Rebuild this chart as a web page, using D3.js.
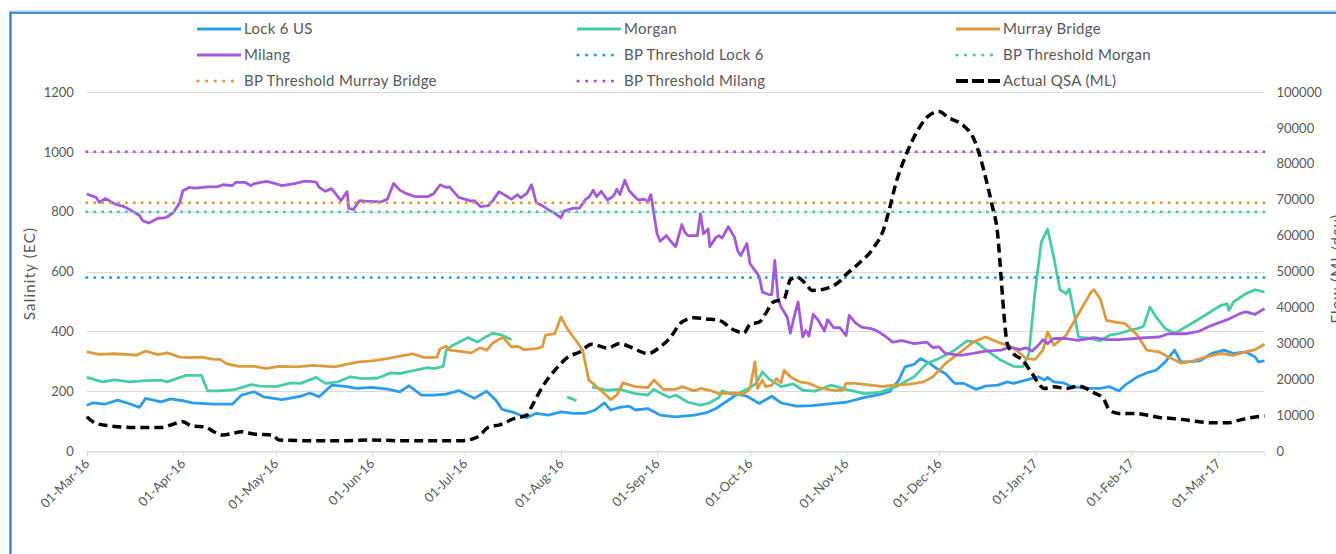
<!DOCTYPE html>
<html>
<head>
<meta charset="utf-8">
<script src="https://cdn.jsdelivr.net/npm/d3@7"></script>
<style>
  body { margin: 0; background: #fff; }
  svg text { font-family: Lato, "Open Sans", sans-serif; fill: #595959; }
</style>
</head>
<body>
<script>
// series values are [days since 01-Mar-16, value]; null value = gap
const lock6 = [[0,153],[2,161],[6,157],[10,170],[14,157],[17,146],[19,176],[24,164],[27,174],[31,168],[34,161],[41,157],[47,157],[50,187],[54,198],[57,181],[63,172],[69,183],[72,194],[75,181],[79,220],[84,215],[87,209],[92,213],[97,207],[101,198],[104,218],[108,187],[112,187],[116,190],[120,202],[125,176],[129,200],[132,170],[134,139],[138,128],[142,111],[145,126],[149,120],[153,131],[157,126],[161,126],[164,137],[167,161],[169,137],[172,146],[175,150],[177,137],[181,142],[185,120],[190,114],[196,120],[200,128],[203,142],[206,163],[210,190],[213,183],[217,159],[221,183],[224,161],[229,150],[234,152],[241,159],[245,163],[251,179],[256,189],[259,198],[262,237],[264,281],[267,290],[269,309],[272,292],[275,270],[277,259],[280,226],[283,226],[287,206],[290,217],[294,220],[297,231],[299,226],[303,237],[307,248],[309,237],[310,246],[312,231],[315,228],[318,215],[323,209],[327,209],[330,215],[333,201],[335,220],[339,248],[342,261],[345,270],[348,298],[351,337],[353,298],[355,298],[359,301],[363,326],[367,337],[370,326],[374,331],[377,314],[378,298],[380,301]];

const morgan = [[0,246],[5,231],[9,238],[14,231],[19,235],[24,237],[26,231],[29,242],[32,253],[37,253],[38,226],[39,201],[43,201],[48,206],[53,222],[56,217],[61,215],[66,228],[69,226],[74,246],[77,226],[81,231],[85,248],[89,242],[94,244],[98,261],[101,259],[105,268],[110,279],[112,275],[115,283],[116,337],[118,353],[123,379],[126,364],[129,383],[131,394],[134,387],[137,372],[138,null],[155,181],[158,168],[159,null],[163,214],[168,203],[172,206],[177,192],[181,187],[183,206],[185,194],[188,179],[190,187],[194,163],[198,153],[201,161],[204,179],[205,201],[209,187],[213,206],[216,226],[218,264],[220,242],[224,215],[228,224],[231,203],[235,200],[240,220],[242,215],[245,206],[251,192],[256,196],[261,215],[267,248],[271,292],[275,309],[280,337],[284,368],[287,364],[290,339],[295,303],[299,283],[302,281],[304,326],[306,537],[308,698],[310,742],[312,648],[314,539],[316,526],[317,542],[318,492],[320,381],[324,376],[327,368],[330,387],[333,392],[337,405],[339,409],[341,417],[343,481],[345,448],[348,409],[351,394],[355,417],[359,442],[363,468],[366,487],[368,492],[368.5,470],[370,498],[374,526],[377,539],[380,531]];

const murrayBridge = [[0,331],[4,323],[9,325],[14,322],[16,320],[19,334],[23,322],[26,328],[30,314],[33,312],[37,314],[41,306],[43,306],[45,292],[49,283],[54,283],[58,276],[62,283],[68,281],[73,286],[80,281],[84,290],[88,298],[92,301],[97,309],[101,317],[105,325],[109,312],[113,314],[114,342],[116,350],[117,337],[120,334],[124,328],[127,345],[129,337],[131,361],[134,379],[135,372],[137,348],[139,350],[141,339],[145,342],[147,348],[148,387],[151,392],[153,448],[155,409],[157,381],[159,353],[160,337],[162,237],[164,220],[167,192],[169,172],[171,187],[173,228],[177,215],[181,212],[183,237],[186,206],[190,206],[192,215],[196,201],[198,209],[201,203],[204,192],[209,194],[212,190],[214,209],[215.6,298],[216.4,209],[218,237],[219,215],[221,220],[222.5,242],[224,228],[225,270],[227,248],[230,231],[233,226],[237,209],[241,203],[244,203],[245,226],[248,226],[253,220],[257,215],[260,220],[265,223],[270,231],[273,248],[277,292],[282,331],[286,364],[290,381],[294,364],[297,353],[300,337],[303,309],[306,306],[308.5,337],[310,398],[312,353],[316,387],[320,459],[324,531],[325,539],[327,509],[329,437],[332,431],[335,426],[339,387],[342,337],[346,331],[349,314],[353,294],[357,301],[361,314],[366,326],[370,320],[374,331],[377,339],[380,357]];

const milang = [[0,859],[3,848],[4,831],[6,844],[9,826],[12,817],[14,806],[17,787],[18,770],[20,762],[23,778],[25,779],[26,783],[28,798],[30,831],[31,870],[33,881],[35,879],[39,883],[42,883],[44,890],[47,887],[48,898],[51,898],[53,887],[54,894],[58,901],[60,896],[63,887],[67,894],[70,901],[72,901],[74,899],[75,881],[77,868],[79,877],[82,837],[84,867],[84.5,812],[86,807],[88,837],[90,835],[95,833],[97,842],[99,894],[101,872],[103,861],[106,850],[110,850],[112,861],[114,890],[116,881],[117,883],[120,848],[124,835],[125,837],[127,817],[129.5,820],[131,837],[133,867],[134,861],[137,842],[139,857],[140,846],[142,861],[143.5,890],[145,831],[147,820],[149,806],[151,795],[153,779],[154,802],[157,812],[159,812],[161,842],[162,848],[163.4,872],[164.5,850],[166,868],[168,839],[170,853],[171,875],[172,857],[173.6,905],[175,870],[177,848],[178,839],[180,842],[181,831],[182,857],[183,792],[184,726],[185,701],[187,720],[189,694],[190,683],[192,757],[193,731],[194,720],[197,720],[198,792],[199,726],[200.5,742],[201,683],[203,714],[204,720],[205,712],[207,750],[209,714],[210,670],[211,653],[213,694],[214,626],[216,598],[217,581],[218,531],[220,523],[221,523],[222,637],[223,514],[224,481],[226,448],[227,394],[228.5,459],[229.5,498],[231,381],[232,403],[233,384],[234.4,457],[236,437],[238,401],[239,439],[241,412],[243,412],[245,386],[246,453],[248,428],[250,414],[253,409],[254,406],[256,395],[258,381],[260,364],[263,369],[267,359],[271,364],[273,346],[275,348],[277,326],[282,320],[286,326],[290,334],[295,337],[298,348],[301,339],[303,345],[305,334],[307,353],[308.5,372],[310,359],[312,376],[316,376],[320,370],[325,379],[329,372],[333,372],[338,376],[342,379],[346,381],[349,392],[355,392],[359,401],[363,420],[368,439],[372,459],[374,465],[377,457],[380,476]];

const actualQSA = [[0,9530],[3,7690],[8,6940],[14,6580],[19,6580],[24,6580],[27,7220],[31,8140],[34,6940],[38,6760],[41,5360],[44,4440],[47,4910],[50,5360],[54,4720],[60,4440],[62,3060],[73,2870],[84,2870],[92,3060],[101,2870],[112,2870],[121,2870],[125,3520],[127,4440],[129,6300],[131,6940],[133,7220],[138,9080],[142,10000],[143.5,12300],[147,17860],[152,23420],[155,26030],[159,27590],[163,29720],[168,28700],[172,29920],[176,28700],[181,27140],[185,28980],[188,31310],[192,35920],[196,37140],[200,36800],[204,36390],[209,33610],[212,32870],[214,35280],[217,35930],[219,38250],[221.5,41480],[225,42420],[227,47700],[229,48420],[232,46590],[234,44730],[239,45380],[243,47310],[245,49170],[249,52140],[254,56750],[257,61500],[259,67500],[261,74370],[264,81760],[268,89170],[271,92870],[275,94540],[278,92870],[283,90560],[286,87310],[288,82700],[290,76200],[292,68810],[294,59530],[295,48420],[296,37310],[297,29920],[299,27140],[302,25280],[305,21580],[309,17420],[312,17880],[316,17420],[320,18060],[325,16200],[328,14640],[330,11390],[333,10470],[338,10470],[342,10000],[346,9360],[350,9080],[355,8610],[359,8140],[363,7860],[368,7860],[372,8610],[376,9360],[380,9720]];

// BP thresholds (EC)
const thresholdNames = ['BP Threshold Lock 6', 'BP Threshold Morgan', 'BP Threshold Murray Bridge', 'BP Threshold Milang'];
const thresholdValues = [580, 800, 830, 1000];

const salinityTicks = [0, 200, 400, 600, 800, 1000, 1200];
const flowTicks = [0, 10000, 20000, 30000, 40000, 50000, 60000, 70000, 80000, 90000, 100000];
const monthLabels = ['01-Mar-16','01-Apr-16','01-May-16','01-Jun-16','01-Jul-16','01-Aug-16','01-Sep-16','01-Oct-16','01-Nov-16','01-Dec-16','01-Jan-17','01-Feb-17','01-Mar-17'];

const width = 1336, height = 554;
const plot = { left: 86.8, right: 1264.5, top: 92, bottom: 451 };

const colors = { lock6: '#2e9de9', morgan: '#49cba6', murray: '#db9b3e', milang: '#a35ad8', qsa: '#000' };

const start = Date.UTC(2016, 2, 1);
const toDate = d => new Date(start + d * 864e5);
const parseLabel = d3.utcParse('%d-%b-%y');

const x = d3.scaleUtc().domain([toDate(0), toDate(380)]).range([plot.left, plot.right]);
const y = d3.scaleLinear().domain([0, 1200]).range([plot.bottom, plot.top]);
const y2 = d3.scaleLinear().domain([0, 100000]).range([plot.bottom, plot.top]);

const svg = d3.select('body').append('svg')
  .attr('width', width).attr('height', height);

// chart frame (selected-chart blue border)
svg.append('path').attr('d', `M10.5,${height} V12 H${width}`)
  .attr('fill', 'none').attr('stroke', '#a9c9ea').attr('stroke-width', 3);
svg.append('path').attr('d', `M10.5,${height} V13 H${width}`)
  .attr('fill', 'none').attr('stroke', '#2a75c4').attr('stroke-width', 1.5);

// gridlines
svg.append('g').selectAll('line').data(salinityTicks).join('line')
  .attr('x1', plot.left).attr('x2', plot.right)
  .attr('y1', d => Math.round(y(d)) + 0.5).attr('y2', d => Math.round(y(d)) + 0.5)
  .attr('stroke', '#d9d9d9').attr('stroke-width', 1);

// left axis
const yAxis = svg.append('g').attr('transform', `translate(${plot.left - 10},0)`)
  .call(d3.axisLeft(y).tickValues(salinityTicks).tickSize(0).tickFormat(d3.format('d')));
yAxis.select('.domain').remove();
yAxis.selectAll('text').attr('font-size', 13).style('font-family', 'Lato');

// right axis
const y2Axis = svg.append('g').attr('transform', `translate(${plot.right + 12},0)`)
  .call(d3.axisRight(y2).tickValues(flowTicks).tickSize(0).tickFormat(d3.format('d')));
y2Axis.select('.domain').remove();
y2Axis.selectAll('text').attr('font-size', 13).attr('x', 0).style('font-family', 'Lato');

// x axis
const xAxis = svg.append('g').attr('transform', `translate(0,${Math.round(plot.bottom) + 0.5})`)
  .call(d3.axisBottom(x).tickValues(monthLabels.map(parseLabel)).tickSize(5).tickFormat(d3.utcFormat('%d-%b-%y')));
xAxis.select('.domain').attr('stroke', '#d9d9d9');
xAxis.selectAll('.tick line').attr('stroke', '#d9d9d9');
xAxis.selectAll('text')
  .attr('font-size', 13).style('font-family', 'Lato')
  .attr('text-anchor', 'end')
  .attr('dy', 0).attr('y', 0)
  .attr('transform', 'translate(3,13) rotate(-45)');

// axis titles
svg.append('text').attr('transform', `translate(35,${(plot.top + plot.bottom) / 2 + 2}) rotate(-90)`)
  .attr('text-anchor', 'middle').attr('font-size', 15).attr('letter-spacing', 1.2).text('Salinity (EC)');
svg.append('text').attr('transform', `translate(1342,${(plot.top + plot.bottom) / 2 - 3}) rotate(-90)`)
  .attr('text-anchor', 'middle').attr('font-size', 15).attr('letter-spacing', 1.2).text('Flow (ML/day)');

const lineL = d3.line().defined(d => d[1] != null).x(d => x(toDate(d[0]))).y(d => y(d[1]));
const lineR = d3.line().x(d => x(toDate(d[0]))).y(d => y2(d[1])).curve(d3.curveMonotoneX);

const series = [
  { name: 'Lock 6 US', data: lock6, color: colors.lock6 },
  { name: 'Morgan', data: morgan, color: colors.morgan },
  { name: 'Murray Bridge', data: murrayBridge, color: colors.murray },
  { name: 'Milang', data: milang, color: colors.milang }
];
const thresholdColors = [colors.lock6, colors.morgan, colors.murray, colors.milang];

series.forEach(s => {
  svg.append('path').datum(s.data)
    .attr('d', lineL).attr('fill', 'none')
    .attr('stroke', s.color).attr('stroke-width', 2.8)
    .attr('stroke-linejoin', 'round');
});

thresholdValues.forEach((v, i) => {
  svg.append('path').datum([[0, v], [380, v]])
    .attr('d', lineL).attr('fill', 'none')
    .attr('stroke', thresholdColors[i]).attr('stroke-width', 3)
    .attr('stroke-linecap', 'round').attr('stroke-dasharray', '0.1 7.8');
});

svg.append('path').datum(actualQSA)
  .attr('d', lineR).attr('fill', 'none')
  .attr('stroke', colors.qsa).attr('stroke-width', 3.5)
  .attr('stroke-dasharray', '9 5');

// legend
const legendItems = [
  { name: 'Lock 6 US', color: colors.lock6, kind: 'solid' },
  { name: 'Morgan', color: colors.morgan, kind: 'solid' },
  { name: 'Murray Bridge', color: colors.murray, kind: 'solid' },
  { name: 'Milang', color: colors.milang, kind: 'solid' },
  { name: thresholdNames[0], color: colors.lock6, kind: 'dot' },
  { name: thresholdNames[1], color: colors.morgan, kind: 'dot' },
  { name: thresholdNames[2], color: colors.murray, kind: 'dot' },
  { name: thresholdNames[3], color: colors.milang, kind: 'dot' },
  { name: 'Actual QSA (ML)', color: colors.qsa, kind: 'dash' }
];
const legendCols = [197, 577, 956];
const legendRows = [29, 55, 81];

const lg = svg.append('g').selectAll('g').data(legendItems).join('g')
  .attr('transform', (d, i) => `translate(${legendCols[i % 3]},${legendRows[Math.floor(i / 3)]})`);
lg.append('line').attr('x2', 44).attr('y1', 0).attr('y2', 0)
  .attr('stroke', d => d.color)
  .attr('stroke-width', d => d.kind === 'dash' ? 4 : 3.2)
  .attr('stroke-linecap', d => d.kind === 'dot' ? 'round' : 'butt')
  .attr('stroke-dasharray', d => d.kind === 'dot' ? '0.1 8.5' : d.kind === 'dash' ? '12 4' : null)
  .attr('x1', d => d.kind === 'dot' ? 1 : 0);
lg.append('text').attr('x', 47).attr('dy', '0.35em').attr('font-size', 15).attr('letter-spacing', 0.3).text(d => d.name);
</script>
</body>
</html>
